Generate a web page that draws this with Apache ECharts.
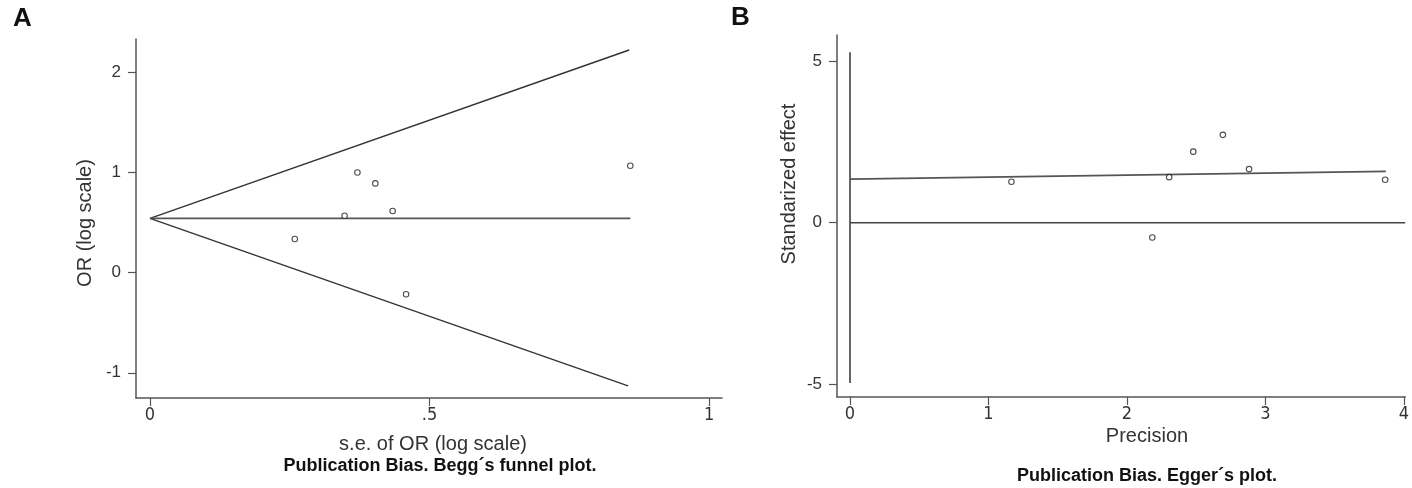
<!DOCTYPE html>
<html>
<head>
<meta charset="utf-8">
<script src="https://cdn.jsdelivr.net/npm/echarts@6/dist/echarts.min.js"></script>
<style>html,body{margin:0;padding:0;background:#fff}#c{width:1412px;height:488px}</style>
</head>
<body>
<div id="c"></div>
<script>
// Panel A: Begg's funnel plot
const beggSE = [0.259, 0.348, 0.371, 0.403, 0.434, 0.458, 0.859];
const beggLogOR = [0.337, 0.569, 1.001, 0.892, 0.616, -0.216, 1.069];
const beggUpper = [[0, 0.543], [0.857, 2.225]];
const beggLower = [[0, 0.543], [0.855, -1.131]];
const beggMid = [[0, 0.543], [0.859, 0.543]];
const beggXTicks = [0, 0.5, 1];
const beggYTicks = [-1, 0, 1, 2];

// Panel B: Egger's plot
const eggerPrecision = [1.166, 2.183, 2.305, 2.479, 2.693, 2.882, 3.865];
const eggerEffect = [1.27, -0.46, 1.41, 2.20, 2.72, 1.66, 1.33];
const eggerFit = [[0, 1.35], [3.87, 1.59]];
const eggerZero = [[0, 0], [4.01, 0]];
const eggerVertical = [[0, 5.28], [0, -4.96]];
const eggerXTicks = [0, 1, 2, 3, 4];
const eggerYTicks = [-5, 0, 5];

const FONT = "'Liberation Sans', Arial, sans-serif";
const NARROW = "'Liberation Sans Narrow', 'DejaVu Sans Condensed', 'Liberation Sans', sans-serif";
const axisCol = '#555';
const txtCol = '#333';

function xAx(gi, min, max, ticks, fmt) {
  return {
    type: 'value', gridIndex: gi, min: min, max: max,
    axisLine: { show: true, onZero: false, lineStyle: { color: axisCol, width: 1.5 } },
    axisTick: { show: true, length: 8, customValues: ticks, lineStyle: { color: axisCol, width: 1.2 } },
    axisLabel: { customValues: ticks, margin: 8, fontSize: 18, color: txtCol, fontFamily: NARROW, formatter: fmt },
    splitLine: { show: false }
  };
}
function yAx(gi, min, max, ticks) {
  return {
    type: 'value', gridIndex: gi, min: min, max: max,
    axisLine: { show: true, onZero: false, lineStyle: { color: axisCol, width: 1.5 } },
    axisTick: { show: true, length: 8, customValues: ticks, lineStyle: { color: axisCol, width: 1.2 } },
    axisLabel: { customValues: ticks, margin: 15, fontSize: 17, color: txtCol, fontFamily: FONT },
    splitLine: { show: false }
  };
}
function lineS(xi, data, col, w) {
  return { type: 'line', xAxisIndex: xi, yAxisIndex: xi, data: data, symbol: 'none',
    lineStyle: { color: col, width: w }, silent: true, z: 2 };
}
function scat(xi, xs, ys) {
  return { type: 'scatter', xAxisIndex: xi, yAxisIndex: xi,
    data: xs.map((v, i) => [v, ys[i]]), symbol: 'circle', symbolSize: 5.5,
    itemStyle: { color: '#fff', borderColor: '#222', borderWidth: 1.1 }, z: 5 };
}

const chart = echarts.init(document.getElementById('c'), null, { renderer: 'canvas' });
chart.setOption({
  animation: false,
  backgroundColor: '#fff',
  grid: [
    { left: 136, top: 39, width: 586, height: 359 },
    { left: 837, top: 35, width: 575, height: 362 }
  ],
  xAxis: [
    xAx(0, -0.025, 1.023, beggXTicks, v => (v === 0.5 ? '.5' : String(v))),
    xAx(1, -0.094, 4.01, eggerXTicks, v => String(v))
  ],
  yAxis: [
    yAx(0, -1.252, 2.335, beggYTicks),
    yAx(1, -5.396, 5.811, eggerYTicks)
  ],
  series: [
    lineS(0, beggUpper, '#333', 1.4),
    lineS(0, beggLower, '#333', 1.4),
    lineS(0, beggMid, '#555', 1.8),
    scat(0, beggSE, beggLogOR),
    lineS(1, eggerVertical, '#666', 2),
    lineS(1, eggerZero, '#444', 1.6),
    lineS(1, eggerFit, '#555', 1.6),
    scat(1, eggerPrecision, eggerEffect)
  ],
  graphic: [
    { type: 'text', left: 13, top: 6, style: { text: 'A', font: "bold 26px " + FONT, fill: '#111' } },
    { type: 'text', left: 731, top: 5, style: { text: 'B', font: "bold 26px " + FONT, fill: '#111' } },
    { type: 'text', x: 85, y: 223, rotation: Math.PI / 2,
      style: { text: 'OR (log scale)', font: "20px " + FONT, fill: txtCol, align: 'center', verticalAlign: 'middle' } },
    { type: 'text', x: 433, y: 444,
      style: { text: 's.e. of OR (log scale)', font: "20px " + FONT, fill: txtCol, align: 'center', verticalAlign: 'middle' } },
    { type: 'text', x: 440, y: 466,
      style: { text: 'Publication Bias. Begg\u00b4s funnel plot.', font: "bold 18px " + FONT, fill: '#111', align: 'center', verticalAlign: 'middle' } },
    { type: 'text', x: 789, y: 184, rotation: Math.PI / 2,
      style: { text: 'Standarized effect', font: "20px " + FONT, fill: txtCol, align: 'center', verticalAlign: 'middle' } },
    { type: 'text', x: 1147, y: 436,
      style: { text: 'Precision', font: "20px " + FONT, fill: txtCol, align: 'center', verticalAlign: 'middle' } },
    { type: 'text', x: 1147, y: 476,
      style: { text: 'Publication Bias. Egger\u00b4s plot.', font: "bold 18px " + FONT, fill: '#111', align: 'center', verticalAlign: 'middle' } }
  ]
});
</script>
</body>
</html>
